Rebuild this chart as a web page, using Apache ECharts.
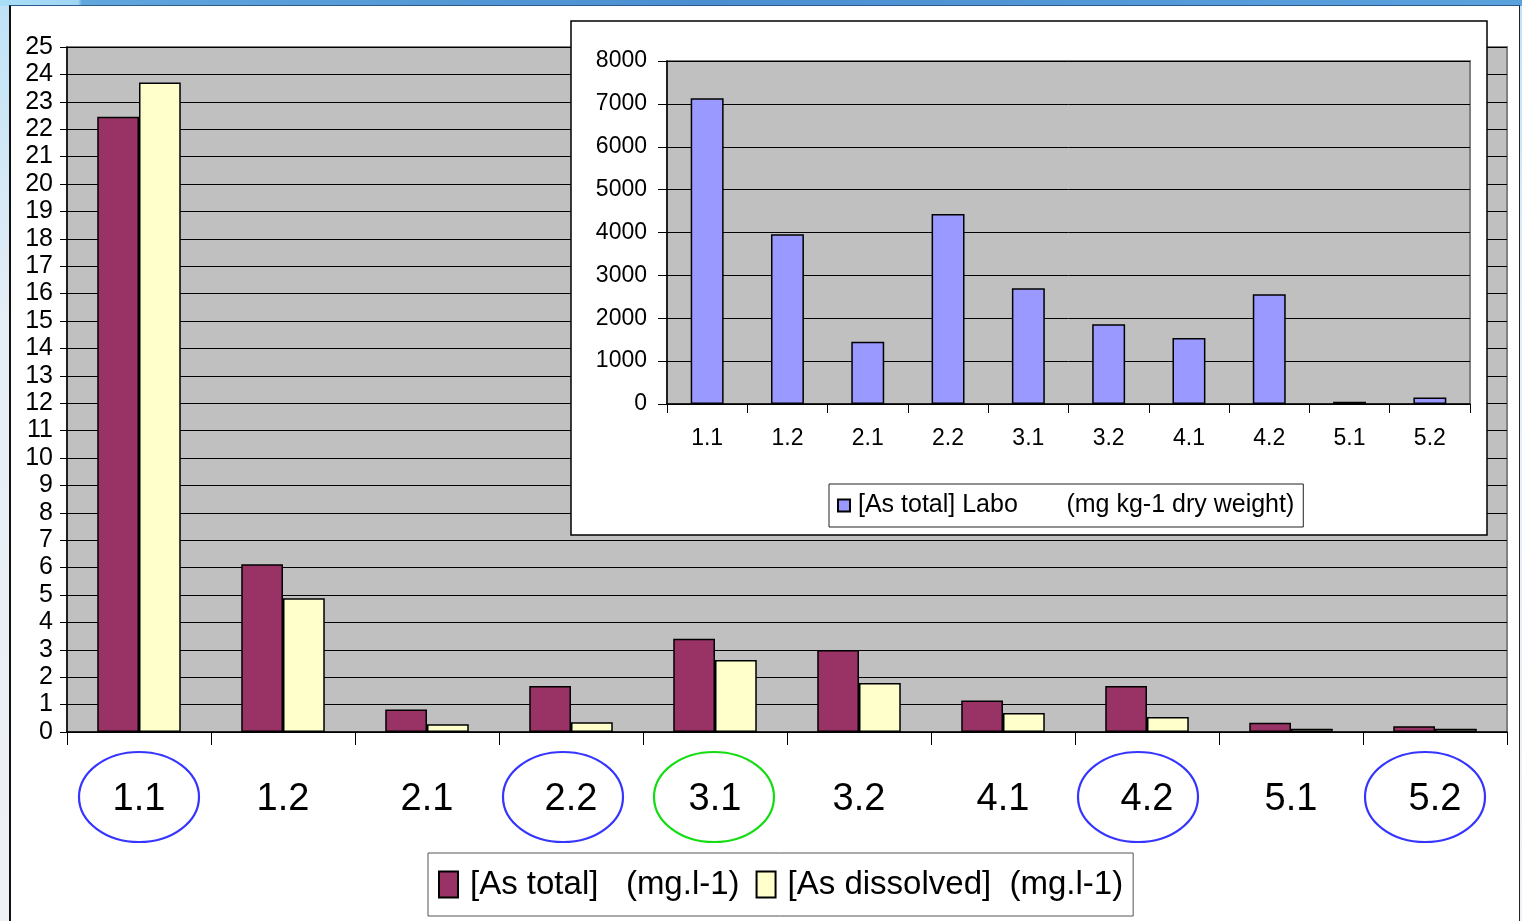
<!DOCTYPE html>
<html><head><meta charset="utf-8">
<script src="https://cdn.jsdelivr.net/npm/echarts@6.0.0/dist/echarts.min.js"></script>
<style>
html,body{margin:0;padding:0;width:1522px;height:921px;overflow:hidden;background:linear-gradient(180deg,#bfe2f7 0%,#e6eef6 35%,#eef1f5 100%);}
#top{position:absolute;left:0;top:0;width:1522px;height:6px;background:linear-gradient(90deg,#a8def8 0px,#a0d6f4 78px,#62a6de 82px,#4a8fd0 700px,#5aa2de 1522px);}
#frame{position:absolute;left:9px;top:5px;width:1508px;height:920px;background:#fff;border-left:2px solid #111;border-right:1px solid #222;border-top:1px solid #2d5a8c;}
#chart{position:absolute;left:0;top:0;width:1522px;height:921px;}
</style></head>
<body>
<div id="top"></div>
<div id="frame"></div>
<div id="chart"></div>
<script>
// ---- data ----
const categories = ['1.1','1.2','2.1','2.2','3.1','3.2','4.1','4.2','5.1','5.2'];
const asTotal     = [22.45, 6.12, 0.82, 1.68, 3.4, 2.99, 1.15, 1.68, 0.34, 0.21];
const asDissolved = [23.7, 4.88, 0.28, 0.36, 2.63, 1.79, 0.69, 0.55, 0.12, 0.12];
const asTotalLabo = [7130, 3960, 1450, 4430, 2700, 1860, 1540, 2560, 50, 150];
const mainYTicks = {min:0, max:25, interval:1};
const insetYTicks = {min:0, max:8000, interval:1000};
const seriesNames = ['[As total]   (mg.l-1)', '[As dissolved]  (mg.l-1)'];
const insetName = '[As total] Labo       (mg kg-1 dry weight)';
// highlighted sites (circled labels)
const highlights = [
  {cat:'1.1', color:'#3535ff', dx:0},
  {cat:'2.2', color:'#3535ff', dx:-8},
  {cat:'3.1', color:'#11dd11', dx:-1},
  {cat:'4.2', color:'#3535ff', dx:-9},
  {cat:'5.2', color:'#3535ff', dx:-10}
];

const SANS = "'Liberation Sans',Arial,sans-serif";

const chart = echarts.init(document.getElementById('chart'), null, {renderer:'canvas'});
const option = {
  animation:false,
  backgroundColor:'transparent',
  grid:[
    {left:67, top:47, right:15, bottom:189, show:true, backgroundColor:'#c0c0c0', borderColor:'#808080', borderWidth:2, z:0},
    {left:667, top:61, width:803, height:343, show:true, backgroundColor:'#c0c0c0', borderColor:'#808080', borderWidth:2, z:4}
  ],
  xAxis:[
    {type:'category', gridIndex:0, data:categories,
     axisLine:{show:true, lineStyle:{color:'#000', width:1.5}},
     axisTick:{show:true, length:13, interval:0, lineStyle:{color:'#000'}},
     axisLabel:{interval:0, margin:68, verticalAlign:'middle', color:'#000', fontSize:38, fontFamily:SANS},
     splitLine:{show:false}, z:1},
    {type:'category', gridIndex:1, data:categories,
     axisLine:{show:true, lineStyle:{color:'#000', width:1.5}},
     axisTick:{show:true, length:9, interval:0, lineStyle:{color:'#000'}},
     axisLabel:{interval:0, margin:35, verticalAlign:'middle', color:'#000', fontSize:23, fontFamily:SANS},
     splitLine:{show:false}, z:4}
  ],
  yAxis:[
    {type:'value', gridIndex:0, min:mainYTicks.min, max:mainYTicks.max, interval:mainYTicks.interval,
     axisLine:{show:true, lineStyle:{color:'#000', width:1.5}},
     axisTick:{show:true, length:7, lineStyle:{color:'#000'}},
     axisLabel:{margin:14, color:'#000', fontSize:25, fontFamily:SANS},
     splitLine:{show:true, lineStyle:{color:'#000', width:1}}, z:1},
    {type:'value', gridIndex:1, min:insetYTicks.min, max:insetYTicks.max, interval:insetYTicks.interval,
     axisLine:{show:true, lineStyle:{color:'#000', width:1.5}},
     axisTick:{show:true, length:9, lineStyle:{color:'#000'}},
     axisLabel:{margin:20, color:'#000', fontSize:23, fontFamily:SANS, formatter:v => String(v)},
     splitLine:{show:true, lineStyle:{color:'#000', width:1}}, z:4}
  ],
  legend:[
    {data:seriesNames, left:428, top:853, orient:'horizontal', padding:[15,10,15,10],
     borderColor:'#555', borderWidth:1, backgroundColor:'#fff',
     itemWidth:19, itemHeight:26, itemGap:16, icon:'rect',
     textStyle:{fontSize:33, fontFamily:SANS, color:'#000', padding:[0,0,0,7]}},
    {data:[insetName], left:829, top:484, padding:[9,9,9,8],
     borderColor:'#222', borderWidth:1, backgroundColor:'#fff',
     itemWidth:12, itemHeight:12, icon:'rect', z:6,
     textStyle:{fontSize:25, fontFamily:SANS, color:'#000', padding:[0,0,0,3]}}
  ],
  series:[
    {name:seriesNames[0], type:'bar', xAxisIndex:0, yAxisIndex:0, data:asTotal,
     barGap:'0%', barCategoryGap:'42%',
     itemStyle:{color:'#993366', borderColor:'#000', borderWidth:1.5}, z:2},
    {name:seriesNames[1], type:'bar', xAxisIndex:0, yAxisIndex:0, data:asDissolved,
     barGap:'0%', barCategoryGap:'42%',
     itemStyle:{color:'#ffffcc', borderColor:'#000', borderWidth:1.5}, z:2},
    {name:insetName, type:'bar', xAxisIndex:1, yAxisIndex:1, data:asTotalLabo,
     barCategoryGap:'59%',
     itemStyle:{color:'#9999ff', borderColor:'#000', borderWidth:1.5}, z:5}
  ],
  graphic:[
    {type:'rect', id:'insetBox', z:3, silent:true,
     shape:{x:571, y:21, width:916, height:514},
     style:{fill:'#fff', stroke:'#000', lineWidth:1.5}}
  ]
};
chart.setOption(option);

const baseY = chart.convertToPixel({yAxisIndex:0}, 0);
const ellipses = highlights.map(h => ({
  type:'ellipse', z:10, silent:true,
  shape:{cx: chart.convertToPixel({xAxisIndex:0}, h.cat) + h.dx, cy: baseY + 65, rx:60, ry:45},
  style:{fill:'none', stroke:h.color, lineWidth:2.2}
}));
chart.setOption({graphic: option.graphic.concat(ellipses)});
</script>
</body></html>
